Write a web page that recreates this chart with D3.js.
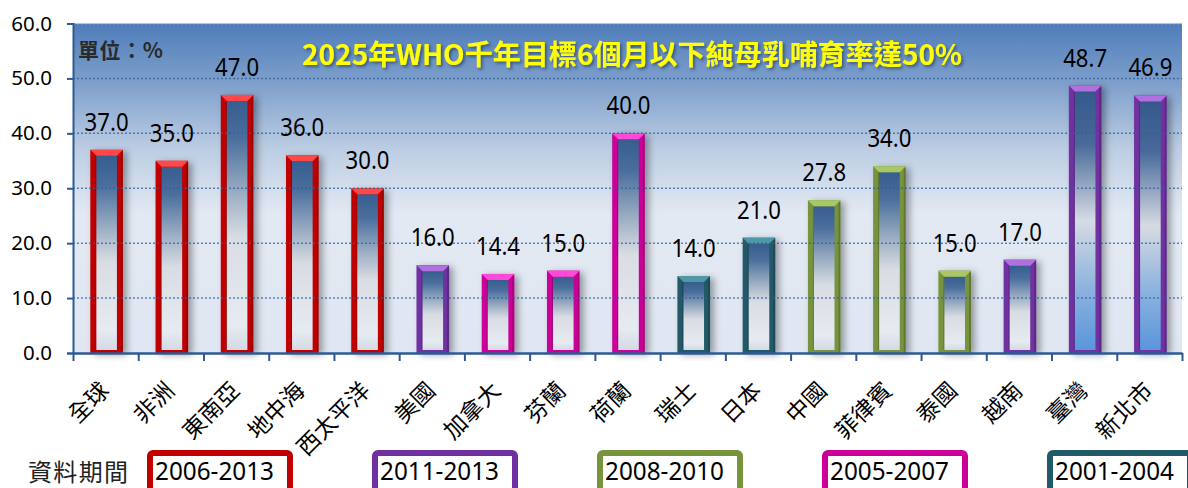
<!DOCTYPE html>
<html>
<head>
<meta charset="utf-8">
<script src="https://cdn.jsdelivr.net/npm/d3@7"></script>
<style>
  body { margin: 0; background: #fff; }
  svg { display: block; }
  .cjk { font-family: "Noto Sans CJK TC", "Noto Sans", sans-serif; }
  .num { font-family: "Noto Sans", "DejaVu Sans", sans-serif; }
</style>
</head>
<body>
<svg id="viz" width="1188" height="488"></svg>
<script>
window.onload = main;

var categories = ["全球", "非洲", "東南亞", "地中海", "西太平洋", "美國", "加拿大", "芬蘭", "荷蘭",
                  "瑞士", "日本", "中國", "菲律賓", "泰國", "越南", "臺灣", "新北市"];
var values = [37.0, 35.0, 47.0, 36.0, 30.0, 16.0, 14.4, 15.0, 40.0, 14.0, 21.0, 27.8, 34.0, 15.0, 17.0, 48.7, 46.9];
var barPeriods = ["2006-2013", "2006-2013", "2006-2013", "2006-2013", "2006-2013",
                  "2011-2013", "2005-2007", "2005-2007", "2005-2007", "2001-2004", "2001-2004",
                  "2008-2010", "2008-2010", "2008-2010", "2011-2013", "2011-2013", "2011-2013"];
var periodLabels = ["2006-2013", "2011-2013", "2008-2010", "2005-2007", "2001-2004"];
var highlighted = ["臺灣", "新北市"];
var yTicks = [0, 10, 20, 30, 40, 50, 60];
var targetValue = 50;
var titleText = "2025年WHO千年目標6個月以下純母乳哺育率達50%";
var unitText = "單位：%";
var legendTitle = "資料期間";

var plot = {left: 73, right: 1182, top: 23.5, bottom: 353};

function main(){
  var svg = d3.select("#viz");
  var defs = svg.append("defs");

  // colour per data period (border of each bar and legend box)
  var color = d3.scaleOrdinal()
                .domain(periodLabels)
                .range(["#c00000", "#7030a0", "#77933c", "#cc0099", "#215967"]);
  var bevel = d3.scaleOrdinal()
                .domain(periodLabels)
                .range(["#ff4a4a", "#b070e0", "#a9c765", "#ff4ad8", "#4f98a6"]);

  var x = d3.scaleBand().domain(categories).range([plot.left, plot.right]);
  var xi = d3.scaleLinear().domain([0, categories.length]).range([plot.left, plot.right]);
  var y = d3.scaleLinear().domain([0, 60]).range([plot.bottom, plot.top]);

  // gradients
  var bg = defs.append("linearGradient").attr("id", "bg").attr("x1", 0).attr("y1", 0).attr("x2", 0).attr("y2", 1);
  [[0, "#4f7dba"], [0.18, "#7e9fcb"], [0.38, "#bccde3"], [0.58, "#e3e9f3"], [1, "#e0e7f2"]].forEach(function(s){
    bg.append("stop").attr("offset", s[0]).attr("stop-color", s[1]);
  });
  var fillA = defs.append("linearGradient").attr("id", "fillA").attr("x1", 0).attr("y1", 0).attr("x2", 0).attr("y2", 1);
  [[0, "#375d8f"], [0.15, "#4a6e9d"], [0.38, "#9fb0c5"], [0.55, "#d9dde3"], [0.9, "#e6eaf1"], [1, "#d4dae4"]].forEach(function(s){
    fillA.append("stop").attr("offset", s[0]).attr("stop-color", s[1]);
  });
  var fillB = defs.append("linearGradient").attr("id", "fillB").attr("x1", 0).attr("y1", 0).attr("x2", 0).attr("y2", 1);
  [[0, "#34598a"], [0.2, "#47699a"], [0.5, "#d6dbe2"], [0.75, "#8fb4df"], [1, "#5a95dc"]].forEach(function(s){
    fillB.append("stop").attr("offset", s[0]).attr("stop-color", s[1]);
  });

  var shadow = defs.append("filter").attr("id", "shadow").attr("x", "-20%").attr("y", "-5%").attr("width", "160%").attr("height", "115%");
  shadow.append("feDropShadow").attr("dx", 4).attr("dy", 2).attr("stdDeviation", 3.5)
        .attr("flood-color", "#000").attr("flood-opacity", 0.35);
  var tshadow = defs.append("filter").attr("id", "tshadow");
  tshadow.append("feDropShadow").attr("dx", 2).attr("dy", 2).attr("stdDeviation", 1.5)
         .attr("flood-color", "#1f3050").attr("flood-opacity", 0.6);

  // plot background
  svg.append("rect")
     .attr("x", plot.left).attr("y", plot.top)
     .attr("width", plot.right - plot.left).attr("height", plot.bottom - plot.top)
     .attr("fill", "url(#bg)");

  // bars
  var bw = x.bandwidth() * 0.5;
  var bars = svg.append("g").selectAll("g.bar")
     .data(categories)
     .enter().append("g")
     .attr("class", "bar")
     .attr("filter", "url(#shadow)");

  bars.each(function(c, i){
    var g = d3.select(this);
    var x0 = x(c) + (x.bandwidth() - bw) / 2 + 1;
    var y0 = y(values[i]);
    var h = y(0) - y0;
    var col = color(barPeriods[i]);
    var b = 6;
    g.append("rect").attr("x", x0).attr("y", y0).attr("width", bw).attr("height", h).attr("fill", col);
    g.append("rect").attr("x", x0 + b).attr("y", y0 + b).attr("width", bw - 2 * b).attr("height", h - b - 3)
     .attr("fill", highlighted.indexOf(c) >= 0 ? "url(#fillB)" : "url(#fillA)");
    // top bevel
    g.append("path")
     .attr("d", "M" + x0 + "," + y0 + "L" + (x0 + bw) + "," + y0 + "L" + (x0 + bw - b) + "," + (y0 + b) +
                "L" + (x0 + b) + "," + (y0 + b) + "Z")
     .attr("fill", bevel(barPeriods[i]));
    // side shading
    g.append("rect").attr("x", x0 + bw - 2).attr("y", y0 + 2).attr("width", 2).attr("height", h - 2)
     .attr("fill", "#000").attr("opacity", 0.18);
    g.append("rect").attr("x", x0 + b - 1).attr("y", y0 + b).attr("width", 1).attr("height", h - b - 3)
     .attr("fill", "#000").attr("opacity", 0.2);
  });

  // gridlines (drawn over the bars, as in the original)
  svg.append("g").selectAll("line.grid")
     .data(yTicks.filter(function(d){ return d > 0; }))
     .enter().append("line")
     .attr("class", "grid")
     .attr("x1", plot.left).attr("x2", plot.right)
     .attr("y1", function(d){ return y(d); }).attr("y2", function(d){ return y(d); })
     .attr("stroke", function(d){ return d === 60 ? "#c8d0dc" : "#2f5e98"; })
     .attr("stroke-width", 1.5)
     .attr("stroke-dasharray", "2,2")
     .attr("opacity", 0.75);

  // target dashed line
  svg.append("line")
     .attr("x1", 78).attr("x2", 1178)
     .attr("y1", y(targetValue)).attr("y2", y(targetValue))
     .attr("stroke", "#c0504d")
     .attr("stroke-width", 6)
     .attr("stroke-dasharray", "42,17")
     .attr("filter", "url(#tshadow)");

  // axes
  var yAxis = svg.append("g")
     .attr("transform", "translate(" + plot.left + ",0)")
     .call(d3.axisLeft(y).tickValues(yTicks).tickFormat(d3.format(".1f")).tickSize(6).tickPadding(15));
  yAxis.select(".domain").attr("stroke", "#2c5a94").attr("stroke-width", 2);
  yAxis.selectAll(".tick line").attr("stroke", "#2c5a94").attr("stroke-width", 2);
  yAxis.selectAll(".tick text").attr("class", "num").attr("font-size", 20.5).attr("fill", "#000");

  var xAxis = svg.append("g")
     .attr("transform", "translate(0," + plot.bottom + ")")
     .call(d3.axisBottom(xi).tickValues(d3.range(0, categories.length + 1)).tickFormat("").tickSize(8).tickSizeOuter(0));
  xAxis.select(".domain").attr("stroke", "#2c5a94").attr("stroke-width", 2.5);
  xAxis.selectAll(".tick line").attr("stroke", "#2c5a94").attr("stroke-width", 2);

  // category labels, rotated
  svg.append("g").selectAll("text.cat")
     .data(categories)
     .enter().append("text")
     .attr("class", "cjk")
     .attr("font-size", 23)
     .attr("fill", "#000")
     .attr("text-anchor", "end")
     .attr("transform", function(c){ return "translate(" + (x(c) + x.bandwidth() / 2 + 5) + ",392) rotate(-45)"; })
     .text(function(c){ return c; });

  // value labels
  svg.append("g").selectAll("text.val")
     .data(categories)
     .enter().append("text")
     .attr("class", "num")
     .attr("font-size", 25)
     .attr("fill", "#000")
     .attr("text-anchor", "middle")
     .attr("textLength", 44).attr("lengthAdjust", "spacingAndGlyphs")
     .attr("x", function(c){ return x(c) + x.bandwidth() / 2 + 1; })
     .attr("y", function(c, i){ return y(values[i]) - 19; })
     .text(function(c, i){ return d3.format(".1f")(values[i]); });

  // unit and title
  svg.append("text")
     .attr("class", "cjk")
     .attr("x", 78).attr("y", 58)
     .attr("font-size", 21).attr("font-weight", "bold").attr("fill", "#2a2a2a")
     .attr("textLength", 85).attr("lengthAdjust", "spacing")
     .text(unitText);
  svg.append("text")
     .attr("class", "cjk")
     .attr("x", 302).attr("y", 65)
     .attr("font-size", 28).attr("font-weight", "bold").attr("fill", "#ffff00")
     .attr("textLength", 660).attr("lengthAdjust", "spacingAndGlyphs")
     .attr("filter", "url(#tshadow)")
     .text(titleText);

  // legend of data periods
  svg.append("text")
     .attr("class", "cjk")
     .attr("x", 28).attr("y", 481)
     .attr("font-size", 24).attr("fill", "#222")
     .attr("textLength", 100).attr("lengthAdjust", "spacing")
     .text(legendTitle);

  var lx = d3.scalePoint().domain(periodLabels).range([220, 1120]);
  var boxW = 140;
  var lg = svg.append("g").selectAll("g.leg")
     .data(periodLabels)
     .enter().append("g")
     .attr("class", "leg");
  lg.append("rect")
     .attr("x", function(d){ return lx(d) - boxW / 2; })
     .attr("y", 453)
     .attr("width", boxW).attr("height", 60)
     .attr("rx", 3)
     .attr("fill", "#fff")
     .attr("stroke", function(d){ return color(d); })
     .attr("stroke-width", 6);
  lg.append("text")
     .attr("class", "num")
     .attr("x", function(d){ return lx(d) - boxW / 2 + 5; })
     .attr("y", 480)
     .attr("font-size", 26).attr("fill", "#000")
     .attr("textLength", 119).attr("lengthAdjust", "spacingAndGlyphs")
     .text(function(d){ return d; });
}
</script>
</body>
</html>
